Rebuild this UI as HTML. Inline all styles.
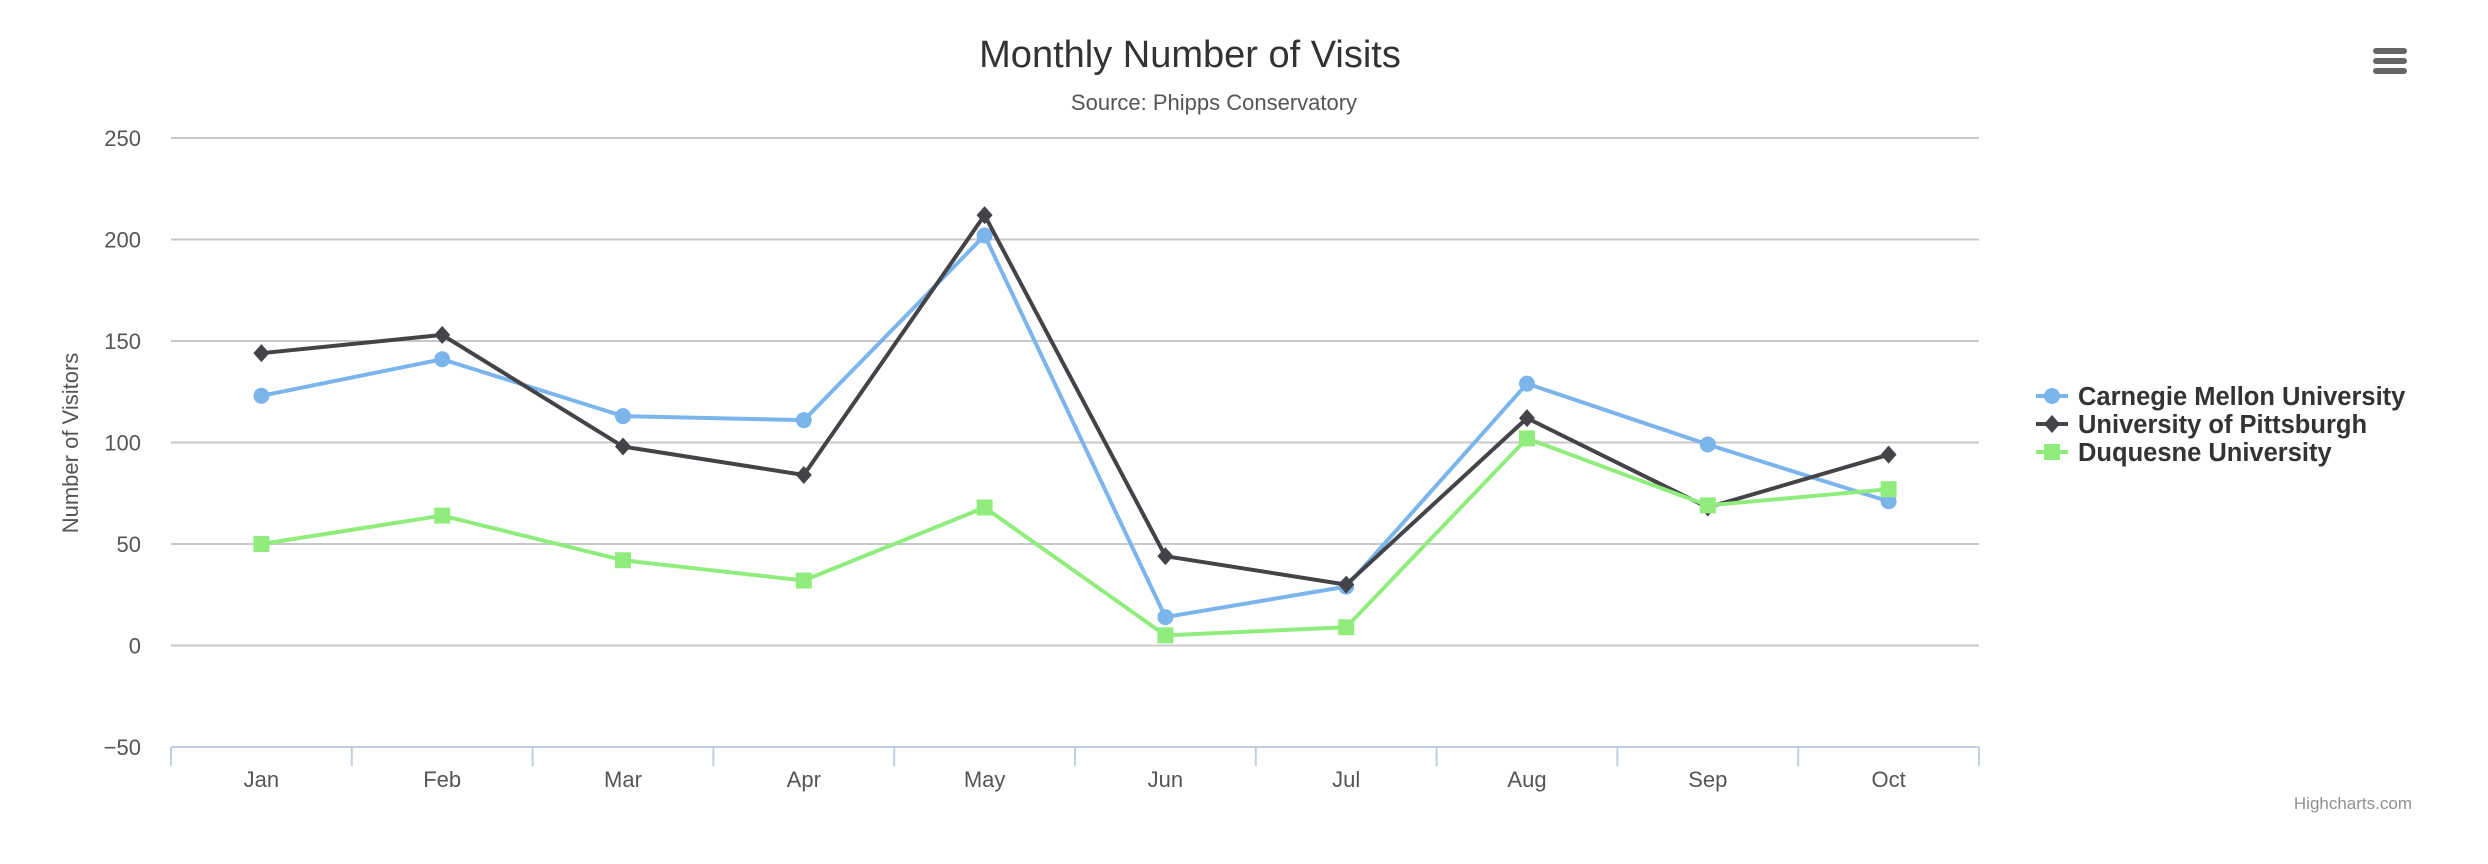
<!DOCTYPE html>
<html><head><meta charset="utf-8"><style>
html,body{margin:0;padding:0;background:#fff;}
svg{display:block;font-family:"Liberation Sans",sans-serif;}
</style></head><body>
<svg id="chart" width="2488" height="864" viewBox="0 0 2488 864">
<text x="1190" y="67" text-anchor="middle" font-size="38" fill="#333">Monthly Number of Visits</text>
<text x="1214" y="110" text-anchor="middle" font-size="22" fill="#555">Source: Phipps Conservatory</text>
<g fill="#666">
<rect x="2373" y="48" width="34" height="6" rx="3"/><rect x="2373" y="58" width="34" height="6" rx="3"/><rect x="2373" y="68" width="34" height="6" rx="3"/>
</g>
<g id="grid"></g><g id="yl"></g><g id="xa"></g><g id="series"></g>
<text transform="translate(78,443) rotate(-90)" text-anchor="middle" font-size="22" fill="#555">Number of Visitors</text>
<g id="legend"></g>
<text x="2412" y="809" text-anchor="end" font-size="17" fill="#909090">Highcharts.com</text>
</svg>
<script>
const categories=["Jan","Feb","Mar","Apr","May","Jun","Jul","Aug","Sep","Oct"];
const yTicks=[-50,0,50,100,150,200,250];
const seriesNames=["Carnegie Mellon University","University of Pittsburgh","Duquesne University"];
const cmuValues=[123,141,113,111,202,14,29,129,99,71];
const pittValues=[144,153,98,84,212,44,30,112,68,94];
const duqValues=[50,64,42,32,68,5,9,102,69,77];
const allValues=[cmuValues,pittValues,duqValues];
const colors=["#7cb5ec","#434348","#90ed7d"];
const symbols=["circle","diamond","square"];
const NS="http://www.w3.org/2000/svg";
const L=171,R=1979,yMin=-50,yMax=250,T=138,B=747;
const xs=i=>L+(R-L)/categories.length*(i+0.5);
const ys=v=>B-(v-yMin)/(yMax-yMin)*(B-T);
function mk(t,a,p){const e=document.createElementNS(NS,t);for(const k in a)e.setAttribute(k,a[k]);p.appendChild(e);return e;}
const grid=document.getElementById('grid'),yl=document.getElementById('yl'),xa=document.getElementById('xa');
yTicks.forEach(v=>{
 if(v!==yMin){const g=mk('line',{x1:L,x2:R,y1:ys(v),y2:ys(v),stroke:'#c8c8c8','stroke-width':2},grid);
 
 }
 const t=mk('text',{x:141,y:ys(v)+8,'text-anchor':'end','font-size':22,fill:'#555'},yl);t.textContent=v<0?'\u2212'+(-v):v;
 
 
});
const ax=mk('line',{x1:L,x2:R,y1:B,y2:B,stroke:'#c0d0e0','stroke-width':2},xa);


for(let i=0;i<=categories.length;i++){const x=L+(R-L)/categories.length*i;
 const tk=mk('line',{x1:x,x2:x,y1:B,y2:B+19,stroke:'#c0d0e0','stroke-width':2},xa);
 
 }
categories.forEach((c,i)=>{const t=mk('text',{x:xs(i),y:787,'text-anchor':'middle','font-size':22,fill:'#555'},xa);t.textContent=c;
 
 });
function sym(s,x,y,c,p,r){
 if(s==='circle')return mk('circle',{cx:x,cy:y,r:r,fill:c},p);
 if(s==='diamond')return mk('path',{d:`M${x} ${y-r-1}L${x+r} ${y}L${x} ${y+r+1}L${x-r} ${y}Z`,fill:c},p);
 return mk('rect',{x:x-r,y:y-r,width:2*r,height:2*r,fill:c},p);
}
const sg=document.getElementById('series');
allValues.forEach((vals,si)=>{
 const g=mk('g',{},sg);
 
 
 const pl=mk('polyline',{points:vals.map((v,i)=>xs(i)+','+ys(v)).join(' '),fill:'none',stroke:colors[si],'stroke-width':4,'stroke-linejoin':'round'},g);
 
 
 vals.forEach((v,i)=>{const m=sym(symbols[si],xs(i),ys(v),colors[si],g,8);
  
  });
});
const lg=document.getElementById('legend');
seriesNames.forEach((n,i)=>{const y=396+i*28;
 const g=mk('g',{},lg);
 
 
 mk('line',{x1:2036,x2:2068,y1:y,y2:y,stroke:colors[i],'stroke-width':4},g);
 sym(symbols[i],2052,y,colors[i],g,8);
 const t=mk('text',{x:2078,y:y+9,'font-size':25.5,'font-weight':'bold',fill:'#333'},g);t.textContent=n;
});
</script>
</body></html>
